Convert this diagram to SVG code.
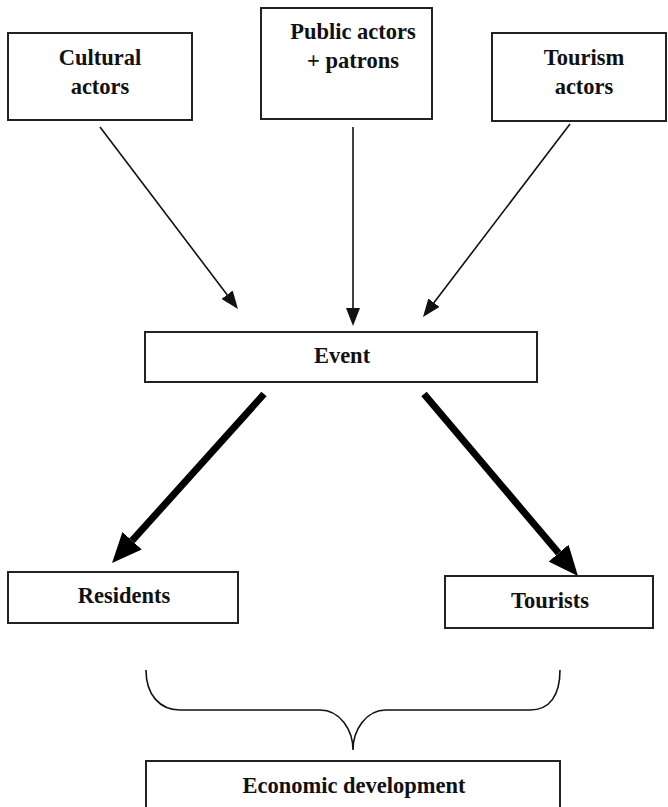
<svg xmlns="http://www.w3.org/2000/svg" width="668" height="807" viewBox="0 0 668 807">
<style>
.box{fill:#fff;stroke:#222;stroke-width:2}
.t{font-family:"Liberation Serif","Times New Roman",serif;font-weight:bold;font-size:22.5px;fill:#111;text-anchor:middle}
.thin{stroke:#111;stroke-width:1.6;fill:none}
.thick{stroke:#000;stroke-width:7;fill:none}
</style>
<defs>
<marker id="ah" markerUnits="userSpaceOnUse" markerWidth="20" markerHeight="14" refX="0" refY="7" orient="auto">
<path d="M0,0 L18,7 L0,14 z" fill="#111"/>
</marker>
<marker id="ahb" markerUnits="userSpaceOnUse" markerWidth="32" markerHeight="26" refX="0" refY="13" orient="auto">
<path d="M0,0 L30,13 L0,26 z" fill="#000"/>
</marker>
</defs>
<g id="connectors">
<line class="thin" x1="100" y1="127" x2="227.1" y2="294.7" marker-end="url(#ah)"/>
<line class="thin" x1="353" y1="127" x2="353" y2="308" marker-end="url(#ah)"/>
<line class="thin" x1="570" y1="124" x2="433.9" y2="302.7" marker-end="url(#ah)"/>
<line class="thick" x1="264" y1="394" x2="132.1" y2="540.7" marker-end="url(#ahb)"/>
<line class="thick" x1="424" y1="394" x2="558.6" y2="553.1" marker-end="url(#ahb)"/>
<path class="thin" d="M146,670 C146,695 160,710 180,710 L320,710 C340,710 353,730 353,750 C353,730 366,710 386,710 L530,710 C550,710 560,695 560,670"/>
</g>
<g id="cultural">
<rect class="box" x="8" y="33" width="184" height="87"/>
<text class="t" x="100" y="65">Cultural</text>
<text class="t" x="100" y="94">actors</text>
</g>
<g id="public">
<rect class="box" x="261" y="8" width="171" height="111"/>
<text class="t" x="353" y="39">Public actors</text>
<text class="t" x="353" y="68">+ patrons</text>
</g>
<g id="tourism">
<rect class="box" x="492" y="33" width="174" height="88"/>
<text class="t" x="584" y="65">Tourism</text>
<text class="t" x="584" y="94">actors</text>
</g>
<g id="event">
<rect class="box" x="145" y="332" width="392" height="50"/>
<text class="t" x="342" y="363">Event</text>
</g>
<g id="residents">
<rect class="box" x="8" y="572" width="230" height="51"/>
<text class="t" x="124" y="603">Residents</text>
</g>
<g id="tourists">
<rect class="box" x="445" y="576" width="208" height="52"/>
<text class="t" x="550" y="608">Tourists</text>
</g>
<g id="economic">
<rect class="box" x="146" y="761" width="414" height="60"/>
<text class="t" x="354" y="793">Economic development</text>
</g>
</svg>
